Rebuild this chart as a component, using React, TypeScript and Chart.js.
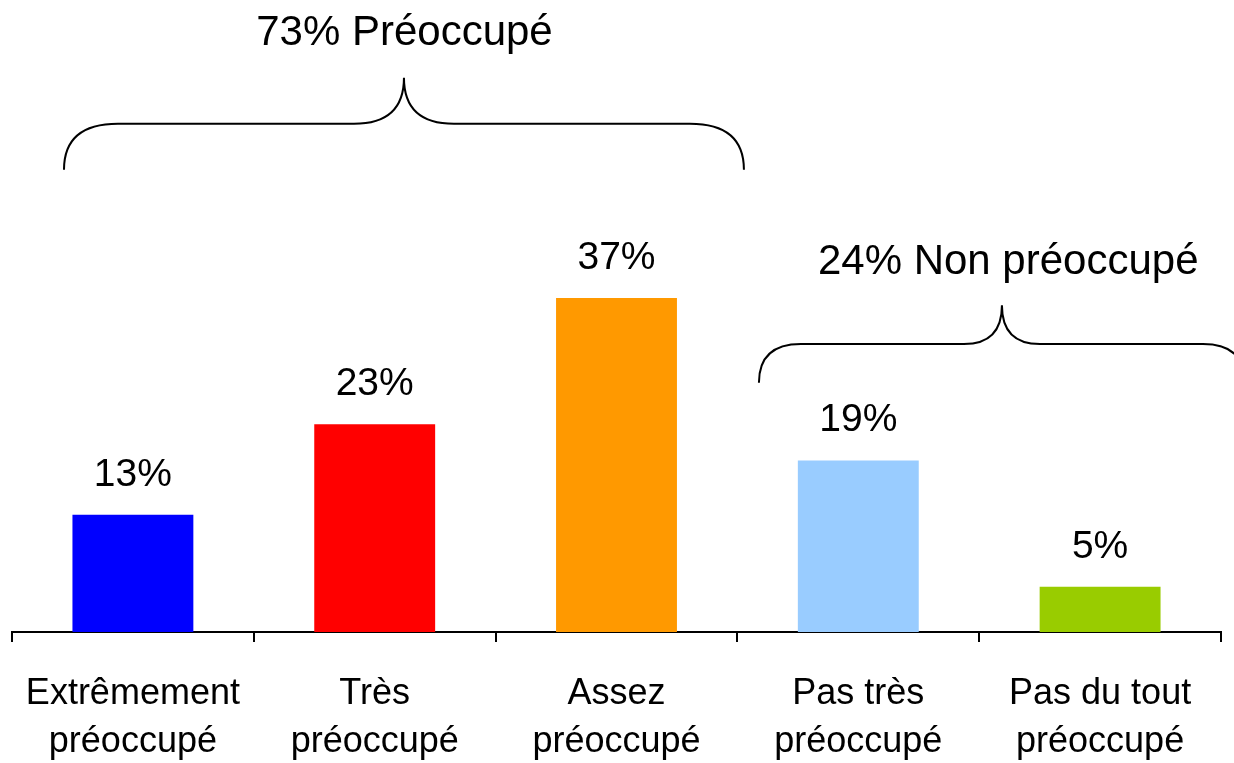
import React, { useEffect, useRef } from "react";
import { Chart, registerables } from "chart.js";

Chart.register(...registerables);

const categories: string[][] = [
  ["Extrêmement", "préoccupé"],
  ["Très", "préoccupé"],
  ["Assez", "préoccupé"],
  ["Pas très", "préoccupé"],
  ["Pas du tout", "préoccupé"],
];
const values: number[] = [13, 23, 37, 19, 5];
const valueLabels: string[] = ["13%", "23%", "37%", "19%", "5%"];
const barColors: string[] = ["#0000FF", "#FF0000", "#FF9900", "#99CCFF", "#99CC00"];

// group braces (in category / value units)
const groupTitles: string[] = ["73% Préoccupé", "24% Non préoccupé"];
const groupStart: number[] = [-0.285, 2.589];
const groupEnd: number[] = [2.527, 4.599];
const groupEndY: number[] = [51.2, 27.6];
const groupLineY: number[] = [56.3, 31.9];
const groupCuspY: number[] = [61.4, 36.2];
const groupTitleY: number[] = [66.3, 40.9];
const groupTitleX: number[] = [1.123, 3.62];

const FONT = "'Liberation Sans', Arial, sans-serif";

const overlayPlugin = {
  id: "overlay",
  afterDatasetsDraw(chart: any) {
    const ctx = chart.ctx;
    const meta = chart.getDatasetMeta(0);
    ctx.save();
    ctx.fillStyle = "#000";
    ctx.font = `39px ${FONT}`;
    ctx.textAlign = "center";
    ctx.textBaseline = "alphabetic";
    meta.data.forEach((bar: any, i: number) => {
      ctx.fillText(valueLabels[i], bar.x, bar.y - 29);
    });
    ctx.restore();
  },
  afterDraw(chart: any) {
    const ctx = chart.ctx;
    const xs = chart.scales.x;
    const ys = chart.scales.y;
    const rEnd = [54, 42];
    const rCusp = [50, 38];
    ctx.save();
    ctx.strokeStyle = "#000";
    ctx.lineWidth = 2;
    for (let g = 0; g < groupTitles.length; g++) {
      const x1 = xs.getPixelForValue(groupStart[g]);
      const x2 = xs.getPixelForValue(groupEnd[g]);
      const xm = (x1 + x2) / 2;
      const yEnd = ys.getPixelForValue(groupEndY[g]);
      const yLine = ys.getPixelForValue(groupLineY[g]);
      const yCusp = ys.getPixelForValue(groupCuspY[g]);
      ctx.beginPath();
      ctx.moveTo(x1, yEnd);
      ctx.quadraticCurveTo(x1, yLine, x1 + rEnd[g], yLine);
      ctx.lineTo(xm - rCusp[g], yLine);
      ctx.quadraticCurveTo(xm, yLine, xm, yCusp);
      ctx.quadraticCurveTo(xm, yLine, xm + rCusp[g], yLine);
      ctx.lineTo(x2 - rEnd[g], yLine);
      ctx.quadraticCurveTo(x2, yLine, x2, yEnd);
      ctx.stroke();

      ctx.fillStyle = "#000";
      ctx.font = `42px ${FONT}`;
      ctx.textAlign = "center";
      ctx.textBaseline = "middle";
      ctx.fillText(groupTitles[g], xs.getPixelForValue(groupTitleX[g]), ys.getPixelForValue(groupTitleY[g]));
    }
    ctx.restore();
  },
};

export default function App() {
  const ref = useRef<HTMLCanvasElement>(null);
  useEffect(() => {
    if (!ref.current) return;
    const chart = new Chart(ref.current, {
      type: "bar",
      data: {
        labels: categories,
        datasets: [
          {
            data: values,
            backgroundColor: barColors,
            borderWidth: 0,
            barPercentage: 0.5,
            categoryPercentage: 1,
          },
        ],
      },
      options: {
        animation: false,
        responsive: false,
        layout: { padding: { left: 12, right: 13, top: 0, bottom: 0 } },
        plugins: { legend: { display: false }, tooltip: { enabled: false } },
        scales: {
          x: {
            offset: true,
            afterFit(scale: any) {
              scale.height = 131;
              scale.paddingLeft = 0;
              scale.paddingRight = 0;
            },
            grid: {
              offset: true,
              drawOnChartArea: false,
              drawTicks: true,
              tickLength: 10,
              color: "#000",
              lineWidth: 2,
            },
            border: { display: true, color: "#000", width: 2 },
            ticks: {
              color: "#000",
              padding: 28,
              maxRotation: 0,
              autoSkip: false,
              font: { family: FONT, size: 36, lineHeight: 1.333 },
            },
          },
          y: {
            display: false,
            min: 0,
            max: 70,
          },
        },
      },
      plugins: [overlayPlugin],
    });
    return () => chart.destroy();
  }, []);
  return (
    <div style={{ position: "absolute", left: 0, top: 0, width: 1234, height: 763, background: "#fff" }}>
      <canvas ref={ref} width={1234} height={763} style={{ display: "block" }} />
    </div>
  );
}
